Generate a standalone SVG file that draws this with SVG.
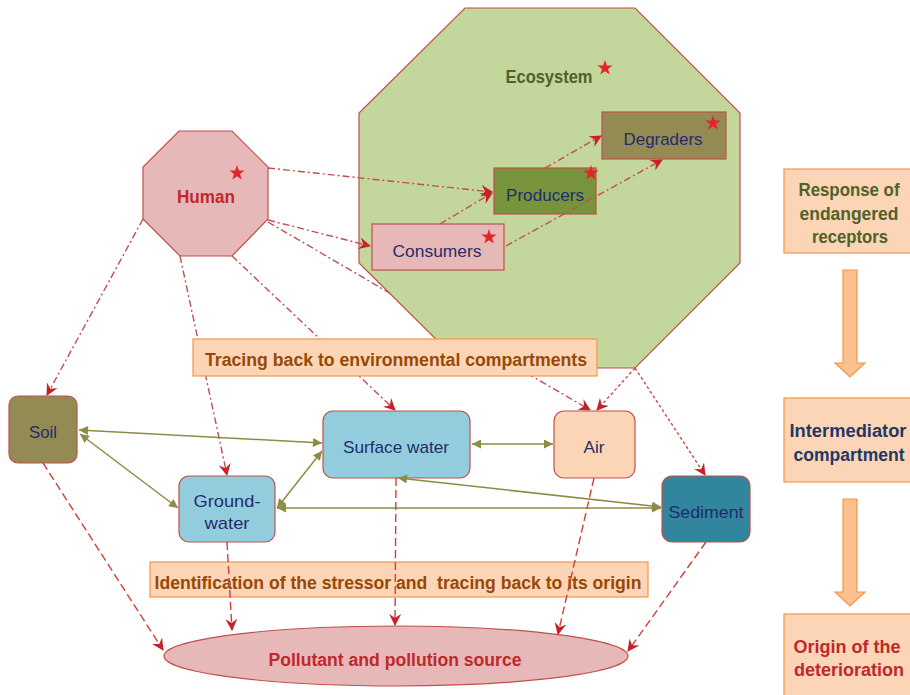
<svg xmlns="http://www.w3.org/2000/svg" width="910" height="695" viewBox="0 0 910 695">
  <defs>
    <style>
      text { font-family: "Liberation Sans", Arial, sans-serif; }
      .lbl { font-size: 17px; fill: #1F2D6B; text-anchor: middle; }
      .bold { font-weight: bold; font-size: 17.5px; text-anchor: middle; }
      .brown { fill: #984807; }
      .redtxt { fill: #C0282C; }
      .greentxt { fill: #4F6228; }
      .navytxt { fill: #1F3864; }
      .node { stroke: #C0504D; stroke-width: 1.2; }
      .peach { fill: #FBD5B5; stroke: #F79646; stroke-width: 1.2; }
      .star { fill: #E3262A; }
      .dashdot { fill: none; stroke: #C0504D; stroke-width: 1.4; stroke-dasharray: 7 3 2 3; marker-end: url(#redHead); }
      .dotted { fill: none; stroke: #C0504D; stroke-width: 1.4; stroke-dasharray: 3 2.5; marker-end: url(#redHead); }
      .dashed { fill: none; stroke: #D0403A; stroke-width: 1.4; stroke-dasharray: 8 4; marker-end: url(#redHead); }
      .olive { fill: none; stroke: #8E8B45; stroke-width: 1.5; marker-start: url(#oliveHead); marker-end: url(#oliveHead); }
      .block { fill: #FAC090; stroke: #F79646; stroke-width: 1.2; }
    </style>
    <marker id="redHead" viewBox="0 0 12 12" refX="11" refY="6" markerWidth="12" markerHeight="12" markerUnits="userSpaceOnUse" orient="auto">
      <path d="M0,0 L12,6 L0,12 L4,6 Z" fill="#C8202A"/>
    </marker>
    <marker id="oliveHead" viewBox="0 0 10 10" refX="10" refY="5" markerWidth="10" markerHeight="9" markerUnits="userSpaceOnUse" orient="auto-start-reverse">
      <path d="M0,0 L10,5 L0,10 Z" fill="#8E8B45"/>
    </marker>
    <path id="starShape" d="M0,-8 L1.88,-2.59 L7.61,-2.47 L3.04,0.99 L4.7,6.47 L0,3.2 L-4.7,6.47 L-3.04,0.99 L-7.61,-2.47 L-1.88,-2.59 Z"/>
  </defs>

  <!-- link running underneath the ecosystem shape -->
  <g id="connectors-under">
    <path class="dashdot" d="M268,222 L590,410"/>
  </g>

  <g id="ecosystem">
    <polygon class="node" fill="#C3D69B" points="465,8 635,8 740,113 740,263 635,368 465,368 359,263 359,113"/>
    <text class="bold greentxt" x="549" y="83" textLength="87" lengthAdjust="spacingAndGlyphs">Ecosystem</text>
    <use href="#starShape" class="star" x="605" y="68"/>
  </g>

  <g id="consumers">
    <rect class="node" x="372" y="224" width="132" height="46" fill="#E6B9B8"/>
    <text class="lbl" x="437" y="257" textLength="89" lengthAdjust="spacingAndGlyphs">Consumers</text>
    <use href="#starShape" class="star" x="489" y="237"/>
  </g>

  <g id="producers">
    <rect class="node" x="494" y="168" width="102" height="46" fill="#77933C"/>
    <text class="lbl" x="545" y="201" textLength="78" lengthAdjust="spacingAndGlyphs">Producers</text>
    <use href="#starShape" class="star" x="591" y="173"/>
  </g>

  <g id="degraders">
    <rect class="node" x="602" y="112" width="124" height="47" fill="#948A54"/>
    <text class="lbl" x="663" y="145" textLength="79" lengthAdjust="spacingAndGlyphs">Degraders</text>
    <use href="#starShape" class="star" x="713" y="123"/>
  </g>

  <g id="human">
    <polygon class="node" fill="#E6B9B8" points="179,131 232,131 268,167 268,219 232,256 180,256 143,219 143,167"/>
    <text class="bold redtxt" x="206" y="203" textLength="58" lengthAdjust="spacingAndGlyphs">Human</text>
    <use href="#starShape" class="star" x="237" y="173"/>
  </g>

  <!-- dash-dot links from the human and ecosystem shapes -->
  <g id="connectors">
    <path class="dashdot" d="M268,168 L492,192"/>
    <path class="dashdot" d="M268,220 L370,246"/>
    <path class="dashdot" d="M232,256 L395,410"/>
    <path class="dashdot" d="M180,256 L227,475"/>
    <path class="dashdot" d="M143,219 L47,395"/>
    <path class="dotted" d="M635,368 L597,410"/>
    <path class="dotted" d="M635,368 L705,475"/>
    <path class="dashdot" d="M440,224 L492,193"/>
    <path class="dashdot" d="M545,168 L601,136"/>
    <path class="dashdot" d="M506,246 L662,160"/>
  </g>

  <g id="tracing">
    <rect class="peach" x="193" y="339" width="404" height="37"/>
    <text class="bold brown" x="396" y="366" textLength="382" lengthAdjust="spacingAndGlyphs">Tracing back to environmental compartments</text>
  </g>

  <g id="soil">
    <rect class="node" x="9" y="396" width="68" height="67" rx="9" fill="#948A54"/>
    <text class="lbl" x="43" y="438" textLength="28" lengthAdjust="spacingAndGlyphs">Soil</text>
  </g>

  <g id="groundwater">
    <rect class="node" x="179" y="476" width="96" height="66" rx="10" fill="#93CDDD"/>
    <text class="lbl" x="227" y="507" textLength="67" lengthAdjust="spacingAndGlyphs">Ground-</text>
    <text class="lbl" x="227" y="529" textLength="45" lengthAdjust="spacingAndGlyphs">water</text>
  </g>

  <g id="surface-water">
    <rect class="node" x="323" y="411" width="147" height="67" rx="10" fill="#93CDDD"/>
    <text class="lbl" x="396" y="453" textLength="106" lengthAdjust="spacingAndGlyphs">Surface water</text>
  </g>

  <g id="air">
    <rect class="node" x="554" y="411" width="81" height="67" rx="10" fill="#FBD5B5"/>
    <text class="lbl" x="594" y="453" textLength="21" lengthAdjust="spacingAndGlyphs">Air</text>
  </g>

  <g id="sediment">
    <rect class="node" x="662" y="476" width="88" height="66" rx="10" fill="#31859C"/>
    <text class="lbl" x="706" y="518" textLength="75" lengthAdjust="spacingAndGlyphs">Sediment</text>
  </g>

  <!-- two-way exchange between compartments -->
  <g id="exchange-connectors">
    <path class="olive" d="M79,430 L322,443"/>
    <path class="olive" d="M80,434 L178,508"/>
    <path class="olive" d="M277,508 L322,451"/>
    <path class="olive" d="M472,444 L553,444"/>
    <path class="olive" d="M277,508 L661,508"/>
    <path class="olive" d="M398,478 L661,507"/>
  </g>

  <g id="identification">
    <rect class="peach" x="150" y="562" width="498" height="35"/>
    <text class="bold brown" x="398" y="589" textLength="487" lengthAdjust="spacingAndGlyphs">Identification of the stressor and &#160;tracing back to its origin</text>
  </g>

  <g id="pollution-source">
    <ellipse class="node" cx="396" cy="656" rx="232" ry="30" fill="#E6B9B8"/>
    <text class="bold redtxt" x="395" y="666" textLength="253" lengthAdjust="spacingAndGlyphs">Pollutant and pollution source</text>
  </g>

  <!-- links down to the pollution source -->
  <g id="source-connectors">
    <path class="dashed" d="M43,463 L163,650"/>
    <path class="dashed" d="M227,542 L232,630"/>
    <path class="dashed" d="M396,478 L395,625"/>
    <path class="dashed" d="M594,478 L558,634"/>
    <path class="dashed" d="M706,542 L628,651"/>
  </g>

  <!-- legend column -->
  <g id="response">
    <rect class="peach" x="784" y="169" width="132" height="84"/>
    <text class="bold greentxt" x="849" y="196" textLength="101" lengthAdjust="spacingAndGlyphs">Response of</text>
    <text class="bold greentxt" x="849" y="220" textLength="99" lengthAdjust="spacingAndGlyphs">endangered</text>
    <text class="bold greentxt" x="850" y="243" textLength="76" lengthAdjust="spacingAndGlyphs">receptors</text>
  </g>

  <g id="intermediator">
    <rect class="peach" x="784" y="398" width="132" height="84"/>
    <text class="bold navytxt" x="848" y="437" textLength="117" lengthAdjust="spacingAndGlyphs">Intermediator</text>
    <text class="bold navytxt" x="849" y="461" textLength="111" lengthAdjust="spacingAndGlyphs">compartment</text>
  </g>

  <g id="origin">
    <rect class="peach" x="784" y="614" width="132" height="90"/>
    <text class="bold redtxt" x="847" y="653" textLength="107" lengthAdjust="spacingAndGlyphs">Origin of the</text>
    <text class="bold redtxt" x="849" y="676" textLength="110" lengthAdjust="spacingAndGlyphs">deterioration</text>
  </g>

  <g id="legend-arrows">
    <polygon class="block" points="843,270 857,270 857,363 865,363 850,377 835,363 843,363"/>
    <polygon class="block" points="843,499 857,499 857,592 865,592 850,606 835,592 843,592"/>
  </g>
</svg>
